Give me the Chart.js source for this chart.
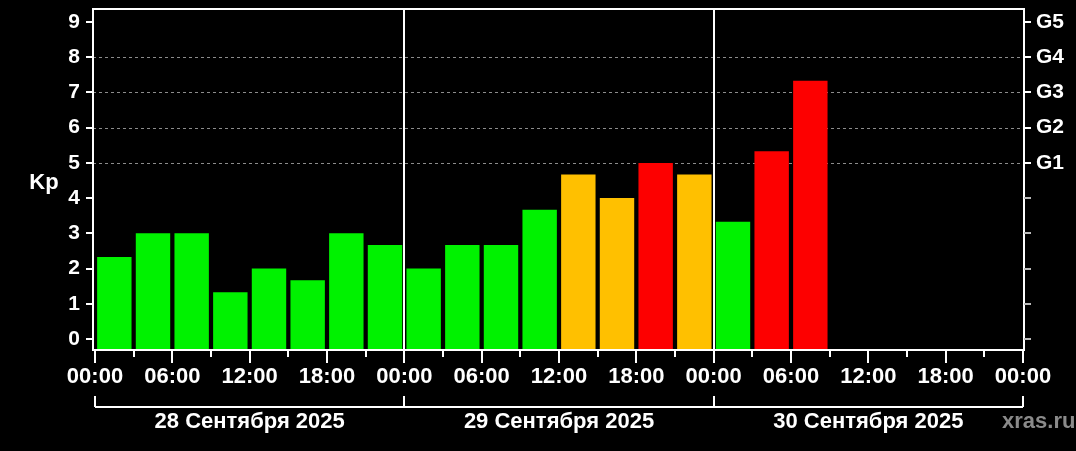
<!DOCTYPE html>
<html>
<head>
<meta charset="utf-8">
<script src="https://cdn.jsdelivr.net/npm/chart.js@4.4.1/dist/chart.umd.min.js"></script>
<style>
  html, body { margin: 0; padding: 0; background: #000; }
  #wrap { position: relative; width: 1076px; height: 451px; background: #000; }
</style>
</head>
<body>
<div id="wrap"><canvas id="c"></canvas></div>
<script>
// ---- data ----
const hourStarts = [0,3,6,9,12,15,18,21, 24,27,30,33,36,39,42,45, 48,51,54];
const kpValues = [2.33,3,3,1.33,2,1.67,3,2.67, 2,2.67,2.67,3.67,4.67,4,5,4.67, 3.33,5.33,7.33];
const kpTicks = [0,1,2,3,4,5,6,7,8,9];
const gLabels = ['G1','G2','G3','G4','G5'];         // at Kp 5..9
const hourTicks = [0,3,6,9,12,15,18,21,24,27,30,33,36,39,42,45,48,51,54,57,60,63,66,69,72];
const hourLabels = ['00:00','06:00','12:00','18:00'];
const dayLabels = ['28 Сентября 2025','29 Сентября 2025','30 Сентября 2025'];
const dayBounds = [0,24,48,72];
const watermark = 'xras.ru';

const FONT = '"Liberation Sans", Arial, sans-serif';
const Y_MIN = -0.312, Y_MAX = 9.369;

function kpColor(v) {
  if (v >= 5) return '#fd0000';
  if (v >= 4) return '#ffc000';
  return '#00f200';
}

const points = hourStarts.map((h, i) => ({ x: h + 1.5, y: kpValues[i] }));

const deco = {
  id: 'deco',
  beforeDatasetsDraw(chart) {
    const { ctx, chartArea: a, scales } = chart;
    const y = scales.y, x = scales.x;
    ctx.save();
    ctx.strokeStyle = '#8c8c8c';
    ctx.lineWidth = 1;
    ctx.setLineDash([3, 3]);
    [5,6,7,8].forEach(v => {
      const py = Math.round(y.getPixelForValue(v)) + 0.5;
      ctx.beginPath(); ctx.moveTo(a.left, py); ctx.lineTo(a.right, py); ctx.stroke();
    });
    ctx.setLineDash([]);
    ctx.strokeStyle = '#ffffff';
    ctx.lineWidth = 2;
    [24, 48].forEach(h => {
      const px = Math.round(x.getPixelForValue(h));
      ctx.beginPath(); ctx.moveTo(px, a.top); ctx.lineTo(px, a.bottom); ctx.stroke();
    });
    ctx.restore();
  },
  afterDraw(chart) {
    const { ctx, chartArea: a, scales } = chart;
    const y = scales.y, x = scales.x;
    ctx.save();
    ctx.strokeStyle = '#ffffff';
    ctx.lineWidth = 2;
    ctx.strokeRect(a.left, a.top, a.right - a.left, a.bottom - a.top);
    kpTicks.forEach(v => {
      const py = Math.round(y.getPixelForValue(v));
      ctx.beginPath(); ctx.moveTo(a.left - 7, py); ctx.lineTo(a.left, py); ctx.stroke();
    });
    kpTicks.forEach(v => {
      const py = Math.round(y.getPixelForValue(v));
      ctx.strokeStyle = v >= 5 ? '#ffffff' : '#bbbbbb';
      ctx.beginPath(); ctx.moveTo(a.right, py); ctx.lineTo(a.right + 7, py); ctx.stroke();
    });
    ctx.strokeStyle = '#ffffff';
    hourTicks.forEach(h => {
      const px = Math.round(x.getPixelForValue(h));
      const len = (h % 6 === 0) ? 13 : 7;
      ctx.beginPath(); ctx.moveTo(px, a.bottom); ctx.lineTo(px, a.bottom + len); ctx.stroke();
    });
    const by = 407;
    const x0 = x.getPixelForValue(dayBounds[0]);
    const x1 = x.getPixelForValue(dayBounds[dayBounds.length - 1]);
    ctx.beginPath(); ctx.moveTo(x0, by); ctx.lineTo(x1, by); ctx.stroke();
    dayBounds.forEach(h => {
      const px = Math.round(x.getPixelForValue(h));
      ctx.beginPath(); ctx.moveTo(px, by); ctx.lineTo(px, by - 11); ctx.stroke();
    });
    ctx.fillStyle = '#ffffff';
    ctx.font = 'bold 22px ' + FONT;
    ctx.textAlign = 'center';
    ctx.textBaseline = 'middle';
    dayLabels.forEach((t, i) => {
      const cx = x.getPixelForValue(dayBounds[i] + 12);
      ctx.fillText(t, cx, 422);
    });
    ctx.fillText('Kp', 44, 183);
    ctx.fillStyle = '#8a8a8a';
    ctx.textAlign = 'left';
    ctx.fillText(watermark, 1002, 422);
    ctx.restore();
  }
};

function noPad(s) { s.paddingTop = 0; s.paddingBottom = 0; s.paddingLeft = 0; s.paddingRight = 0; }

new Chart(document.getElementById('c'), {
  type: 'bar',
  data: {
    datasets: [{
      data: points,
      backgroundColor: kpValues.map(kpColor),
      borderWidth: 0,
      barPercentage: 0.89,
      categoryPercentage: 1.0,
      base: Y_MIN,
      yAxisID: 'y'
    }]
  },
  options: {
    responsive: true,
    maintainAspectRatio: false,
    animation: false,
    layout: { padding: { top: 9, left: 0, right: 0, bottom: 0 } },
    plugins: { legend: { display: false }, tooltip: { enabled: false } },
    scales: {
      x: {
        type: 'linear',
        position: 'bottom',
        offset: false,
        min: -0.155,
        max: 72.078,
        afterBuildTicks(s) { s.ticks = hourTicks.filter(h => h % 6 === 0).map(v => ({ value: v })); },
        afterFit(s) { s.height = 101; noPad(s); },
        grid: { display: false, drawTicks: false, offset: false },
        border: { display: false },
        ticks: {
          autoSkip: false,
          maxRotation: 0,
          padding: 14,
          color: '#ffffff',
          font: { family: FONT, size: 22, weight: 'bold' },
          callback(v) { return hourLabels[(v % 24) / 6]; }
        }
      },
      y: {
        type: 'linear',
        position: 'left',
        min: Y_MIN,
        max: Y_MAX,
        afterBuildTicks(s) { s.ticks = kpTicks.map(v => ({ value: v })); },
        afterFit(s) { s.width = 93; noPad(s); },
        grid: { display: false, drawTicks: false },
        border: { display: false },
        ticks: {
          padding: 13,
          color: '#ffffff',
          font: { family: FONT, size: 21, weight: 'bold' },
          callback(v) { return String(v); }
        }
      },
      y2: {
        type: 'linear',
        position: 'right',
        min: Y_MIN,
        max: Y_MAX,
        afterBuildTicks(s) { s.ticks = kpTicks.map(v => ({ value: v })); },
        afterFit(s) { s.width = 52; noPad(s); },
        grid: { display: false, drawTicks: false },
        border: { display: false },
        ticks: {
          padding: 12,
          color: '#ffffff',
          font: { family: FONT, size: 21, weight: 'bold' },
          callback(v) { return v >= 5 ? gLabels[v - 5] : ''; }
        }
      }
    }
  },
  plugins: [deco]
});
</script>
</body>
</html>
